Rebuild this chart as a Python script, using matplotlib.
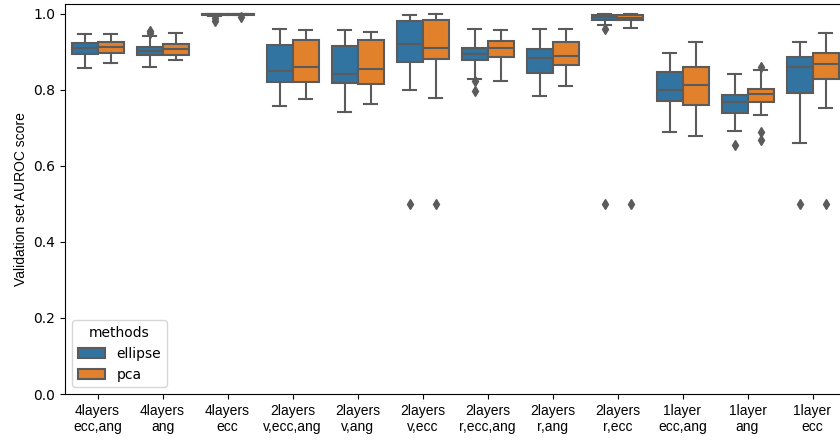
import numpy as np
import matplotlib.pyplot as plt
from matplotlib.patches import Patch

# categories and two methods
categories = ['4layers\necc,ang', '4layers\nang', '4layers\necc', '2layers\nv,ecc,ang',
              '2layers\nv,ang', '2layers\nv,ecc', '2layers\nr,ecc,ang', '2layers\nr,ang',
              '2layers\nr,ecc', '1layer\necc,ang', '1layer\nang', '1layer\necc']
methods = ['ellipse', 'pca']

# box stats: low whisker, Q1, median, Q3, high whisker
ellipse_low = [0.857, 0.861, 0.995, 0.757, 0.741, 0.800, 0.830, 0.783, 0.971, 0.690, 0.692, 0.661]
ellipse_q1 = [0.895, 0.892, 0.998, 0.820, 0.818, 0.873, 0.878, 0.844, 0.984, 0.771, 0.739, 0.793]
ellipse_med = [0.909, 0.903, 0.999, 0.851, 0.841, 0.921, 0.894, 0.884, 0.991, 0.800, 0.768, 0.859]
ellipse_q3 = [0.923, 0.914, 1.000, 0.917, 0.916, 0.981, 0.911, 0.907, 0.998, 0.846, 0.786, 0.886]
ellipse_high = [0.946, 0.942, 1.000, 0.960, 0.958, 0.996, 0.960, 0.960, 1.000, 0.898, 0.841, 0.925]
ellipse_out = [[], [0.950, 0.956], [0.990, 0.982], [], [], [0.5], [0.824, 0.796], [],
               [0.961, 0.5], [], [0.654], [0.5]]

pca_low = [0.872, 0.878, 0.996, 0.776, 0.764, 0.778, 0.824, 0.809, 0.964, 0.680, 0.733, 0.753]
pca_q1 = [0.898, 0.892, 0.998, 0.820, 0.815, 0.882, 0.886, 0.866, 0.983, 0.761, 0.767, 0.829]
pca_med = [0.914, 0.907, 0.999, 0.860, 0.854, 0.909, 0.909, 0.889, 0.989, 0.814, 0.789, 0.868]
pca_q3 = [0.925, 0.921, 1.000, 0.930, 0.932, 0.983, 0.929, 0.926, 0.998, 0.859, 0.802, 0.896]
pca_high = [0.947, 0.950, 1.000, 0.957, 0.953, 0.999, 0.958, 0.960, 1.000, 0.925, 0.852, 0.950]
pca_out = [[], [], [0.993], [], [], [0.5], [], [], [0.5], [], [0.861, 0.690, 0.668], [0.5]]

colors = ['#3274a1', '#e1812c']
edge = '#5b5b5b'

fig = plt.figure(figsize=(8.4, 4.42), dpi=100)
# the original is cropped on the right, so the axes run past the canvas edge
ax = fig.add_axes([65 / 840, 1 - 394 / 442, 780 / 840, 390 / 442])

series = [(ellipse_low, ellipse_q1, ellipse_med, ellipse_q3, ellipse_high, ellipse_out),
          (pca_low, pca_q1, pca_med, pca_q3, pca_high, pca_out)]
x = np.arange(len(categories))
width = 0.4
for k, (lo, q1, med, q3, hi, out) in enumerate(series):
    stats = []
    for i in range(len(categories)):
        stats.append({'whislo': lo[i], 'q1': q1[i], 'med': med[i], 'q3': q3[i],
                      'whishi': hi[i], 'fliers': out[i]})
    pos = x - width / 2 + k * width
    ax.bxp(stats, positions=pos, widths=width, patch_artist=True, showfliers=True,
           boxprops=dict(facecolor=colors[k], edgecolor=edge, linewidth=1.5),
           medianprops=dict(color=edge, linewidth=1.5),
           whiskerprops=dict(color=edge, linewidth=1.5),
           capprops=dict(color=edge, linewidth=1.5),
           flierprops=dict(marker='d', markerfacecolor=edge, markeredgecolor=edge,
                           markersize=5))

ax.set_xlim(-0.5, len(categories) - 0.5)
ax.set_ylim(0, 1.026)
ax.set_xticks(x)
ax.set_xticklabels(categories, fontsize=10, family='Liberation Sans')
ax.set_yticks([0.0, 0.2, 0.4, 0.6, 0.8, 1.0])
ax.tick_params(axis='y', labelsize=10)
ax.set_ylabel('Validation set AUROC score', fontsize=10, family='Liberation Sans')

handles = [Patch(facecolor=colors[k], edgecolor=edge, linewidth=1.5, label=methods[k])
           for k in range(2)]
ax.legend(handles=handles, title='methods', loc='lower left', fontsize=10, title_fontsize=10)

fig.savefig('out.png', dpi=100)
